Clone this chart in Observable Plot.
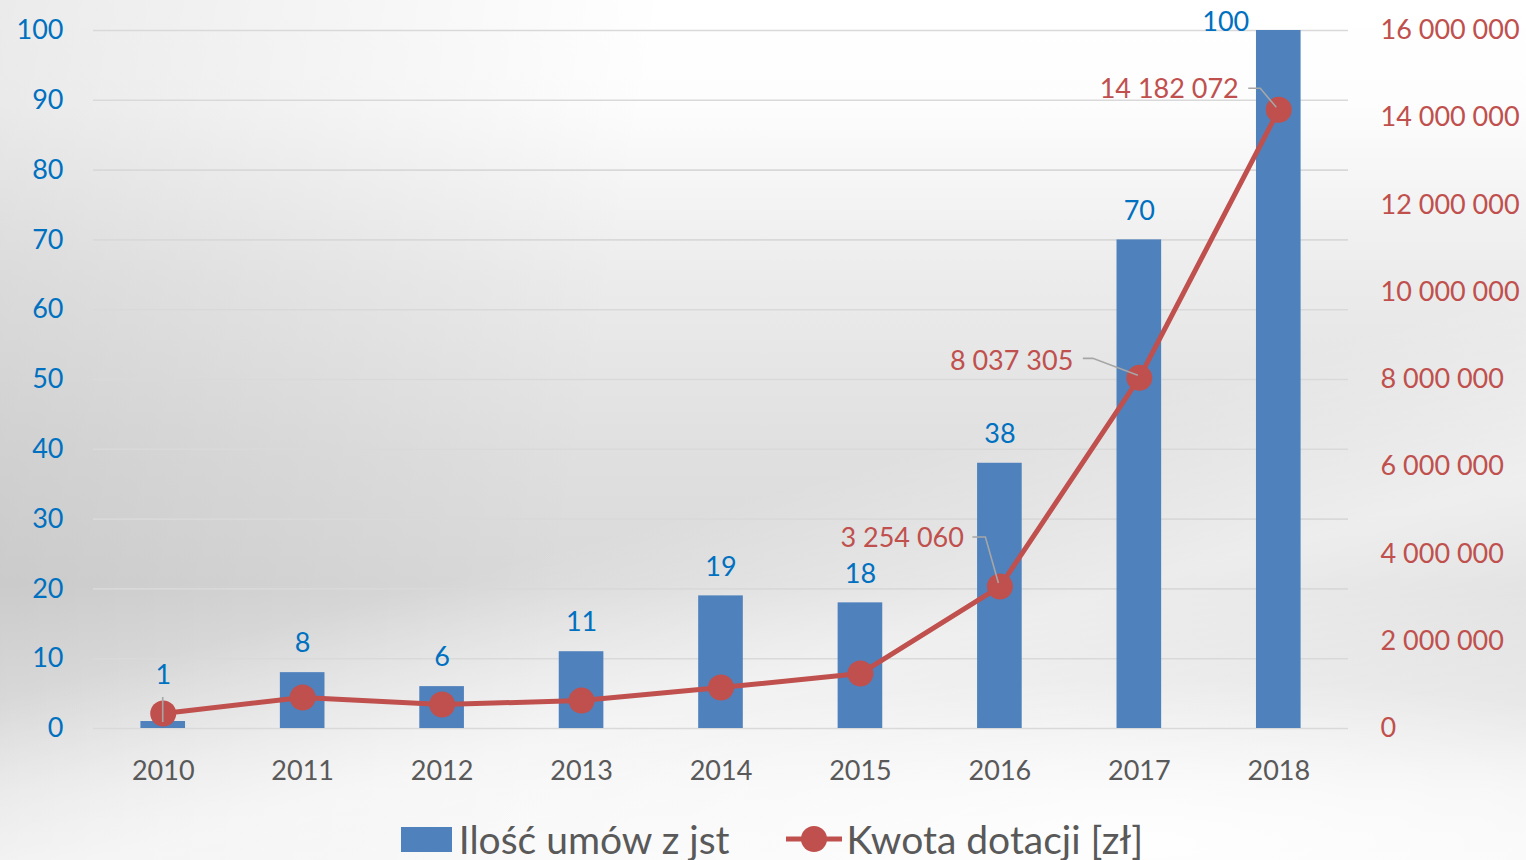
<!DOCTYPE html>
<html>
<head>
<meta charset="utf-8">
<script src="https://cdn.jsdelivr.net/npm/d3@7"></script>
<script src="https://cdn.jsdelivr.net/npm/@observablehq/plot@0.6"></script>
<style>
  html, body { margin: 0; padding: 0; }
  body {
    width: 1526px; height: 860px; overflow: hidden;
    font-family: Lato, "Open Sans", sans-serif;
    background:
      radial-gradient(ellipse 1000px 230px at 75% 98%, rgba(255,255,255,0.9), rgba(255,255,255,0) 72%),
      linear-gradient(165deg, rgba(255,255,255,0) 55%, rgba(255,255,255,0.5) 70%, rgba(255,255,255,0) 90%),
      linear-gradient(100deg, rgba(0,0,0,0.08) 0%, rgba(0,0,0,0) 40%),
      linear-gradient(to bottom, #ffffff 0%, #fdfdfd 12%, #ececec 32%, #e0e0e0 52%, #d9d9d9 68%, #e7e7e7 82%, #f3f3f3 92%, #f7f7f7 100%);
  }
  #legend {
    height: 60px; display: flex; justify-content: center; align-items: center;
    gap: 56px; font-size: 39px; color: #595959; line-height: 1;
    padding-top: 18px; padding-left: 18px; box-sizing: border-box;
  }
  #legend .item { display: flex; align-items: center; }
  #legend svg { display: block; }
</style>
</head>
<body>
<div id="chart"></div>
<div id="legend"></div>
<script>
// ---- data ----
const years = ["2010", "2011", "2012", "2013", "2014", "2015", "2016", "2017", "2018"];
const umowy = [1, 8, 6, 11, 19, 18, 38, 70, 100];
const kwota = [345000, 710000, 550000, 640000, 940000, 1260000, 3254060, 8037305, 14182072];
const leftTicks = [0, 10, 20, 30, 40, 50, 60, 70, 80, 90, 100];
const rightTicks = [0, 2000000, 4000000, 6000000, 8000000, 10000000, 12000000, 14000000, 16000000];
const labeledKwotaYears = ["2016", "2017", "2018"];
const seriesNames = ["Ilość umów z jst", "Kwota dotacji [zł]"];

const leftMax = 100, rightMax = 16000000;
const ratio = rightMax / leftMax;

const colors = { bar: "#4F81BD", line: "#C0504D", leftText: "#0070C0", rightText: "#C0504D", xText: "#595959", grid: "#d9d9d9", leader: "#a6a6a6" };

const table = years.map((year, i) => ({ year, umowy: umowy[i], kwota: kwota[i], kwotaScaled: kwota[i] / ratio }));
const fmt = d3.formatLocale({ decimal: ",", thousands: " ", grouping: [3], currency: ["", ""] }).format(",d");

// annotation placement (pixel offsets from anchor points)
const kwotaLabelOffsets = {
  "2016": { dx: -36, dy: -48, leader: [[-27, -49], [-14, -49], [-1, -3]] },
  "2017": { dx: -66, dy: -17, leader: [[-56, -19], [-46, -19], [-1, -2]] },
  "2018": { dx: -40, dy: -20, leader: [[-30, -21], [-18, -21], [-2, -2]] }
};

const normalBars = table.filter(d => d.year !== "2010" && d.year !== "2018");

const chart = Plot.plot({
  width: 1526, height: 800,
  marginLeft: 93, marginRight: 178, marginTop: 30, marginBottom: 72,
  style: { background: "transparent", fontFamily: "Lato, 'Open Sans', sans-serif", fontSize: "27px", overflow: "visible" },
  x: { type: "band", domain: years, paddingInner: 0.68, paddingOuter: 0.34, round: false, axis: null },
  y: { domain: [0, leftMax], axis: null },
  marks: [
    Plot.ruleY(leftTicks, { stroke: colors.grid, strokeWidth: 1.6 }),
    Plot.axisX({ tickSize: 0, tickPadding: 32, color: colors.xText, fontSize: 27, label: null }),
    Plot.axisY(leftTicks, { anchor: "left", tickSize: 0, tickPadding: 30, color: colors.leftText, fontSize: 27, label: null }),
    Plot.axisY(rightTicks.map(v => v / ratio), { anchor: "right", tickSize: 0, tickPadding: 32, color: colors.rightText, fontSize: 27, label: null, tickFormat: d => fmt(Math.round(d * ratio)) }),
    Plot.barY(table, { x: "year", y: "umowy", fill: colors.bar }),
    Plot.line(table, { x: "year", y: "kwotaScaled", stroke: colors.line, strokeWidth: 5 }),
    Plot.dot(table, { x: "year", y: "kwotaScaled", r: 13, fill: colors.line }),
    Plot.text(normalBars, { x: "year", y: "umowy", text: d => String(d.umowy), dy: -29, fill: colors.leftText, fontSize: 27 }),
    Plot.text(table.filter(d => d.year === "2010"), { x: "year", y: "umowy", text: d => String(d.umowy), dy: -46, fill: colors.leftText, fontSize: 27 }),
    Plot.text(table.filter(d => d.year === "2018"), { x: "year", y: "umowy", text: d => String(d.umowy), dx: -53, dy: -8, fill: colors.leftText, fontSize: 27 }),
    ...labeledKwotaYears.map(yr => Plot.text(table.filter(d => d.year === yr), {
      x: "year", y: "kwotaScaled", text: d => fmt(d.kwota),
      dx: kwotaLabelOffsets[yr].dx, dy: kwotaLabelOffsets[yr].dy, textAnchor: "end", fill: colors.rightText, fontSize: 27
    }))
  ]
});
document.getElementById("chart").appendChild(chart);

// leader lines
const sx = chart.scale("x"), sy = chart.scale("y");
const bw = sx.bandwidth || 0;
const svg = d3.select(chart);
const g = svg.append("g").attr("fill", "none").attr("stroke", colors.leader).attr("stroke-width", 1.6);
labeledKwotaYears.forEach(yr => {
  const d = table.find(t => t.year === yr);
  const cx = sx.apply(d.year) + bw / 2, cy = sy.apply(d.kwotaScaled);
  const pts = kwotaLabelOffsets[yr].leader.map(([ox, oy]) => [cx + ox, cy + oy]);
  g.append("path").attr("d", d3.line()(pts));
});
{
  const d = table[0];
  const cx = sx.apply(d.year) + bw / 2, cy = sy.apply(d.umowy);
  g.append("path").attr("d", d3.line()([[cx, cy - 24], [cx, cy + 1]]));
}

// legend
const legend = d3.select("#legend");
const it1 = legend.append("div").attr("class", "item");
it1.append("svg").attr("width", 51).attr("height", 25)
  .append("rect").attr("width", 51).attr("height", 25).attr("fill", colors.bar);
it1.append("span").style("margin-left", "7px").text(seriesNames[0]);
const it2 = legend.append("div").attr("class", "item");
const s2 = it2.append("svg").attr("width", 56).attr("height", 28);
s2.append("line").attr("x1", 0).attr("x2", 56).attr("y1", 14).attr("y2", 14).attr("stroke", colors.line).attr("stroke-width", 5);
s2.append("circle").attr("cx", 28).attr("cy", 14).attr("r", 13).attr("fill", colors.line);
it2.append("span").style("margin-left", "5px").text(seriesNames[1]);
</script>
</body>
</html>
